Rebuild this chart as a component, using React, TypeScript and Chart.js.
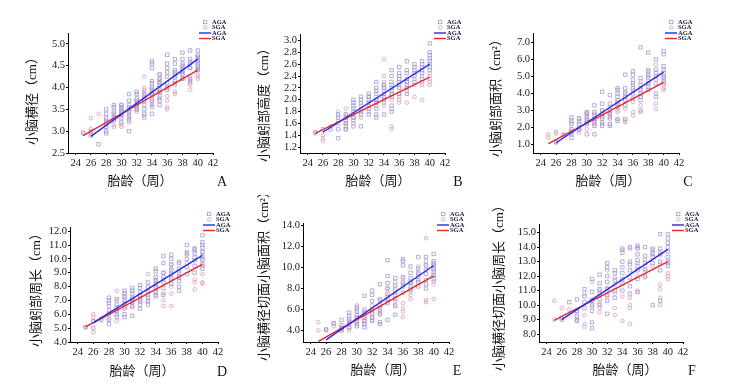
import React, { useEffect, useRef } from "react";
import { Chart, registerables } from "chart.js";
Chart.register(...registerables);

// ---------------- DATA ----------------
const WEEKS = [25, 26, 27, 28, 29, 30, 31, 32, 33, 34, 35, 36, 37, 38, 39, 40];
const X_TICKS = [24, 26, 28, 30, 32, 34, 36, 38, 40, 42];
const FIT_X_AGA = [26, 40];
const FIT_X_SGA = [25, 40];
const X_TITLE = "胎龄（周）";

// A: 小脑横径
const A_AGA = [
  [2.95], [2.9, 3.0], [2.7], [3.5, 3.4, 3.3, 3.2, 3.1, 3.0, 2.95], [3.6, 3.55, 3.45, 3.4, 3.3, 3.25],
  [3.6, 3.55, 3.5, 3.45, 3.4, 3.3, 3.2], [3.85, 3.7, 3.6, 3.5, 3.45, 3.35, 3.25, 3.0],
  [3.9, 3.85, 3.75, 3.7, 3.65, 3.55, 3.5], [3.85, 3.75, 3.7, 3.6, 3.5, 3.4],
  [4.6, 4.55, 4.45, 4.15, 4.1, 4.0, 3.95, 3.9, 3.85, 3.7, 3.55, 3.4],
  [4.3, 4.2, 4.1, 4.05, 3.95, 3.9, 3.8, 3.7, 3.6], [4.75, 4.55, 4.45, 4.35, 4.25, 4.1, 4.0, 3.95],
  [4.65, 4.55, 4.4, 4.35, 4.3, 4.25, 4.15, 4.1], [4.8, 4.65, 4.55, 4.5, 4.45, 4.4, 4.3, 4.2],
  [4.85, 4.65, 4.55, 4.45, 4.2, 4.15], [4.85, 4.75, 4.7, 4.65, 4.6, 4.55, 4.5, 4.45, 4.4],
];
const A_SGA = [
  [2.97], [3.3, 3.05, 2.95], [3.4], [3.25, 3.15], [3.1, 3.15, 3.35], [3.6, 3.45, 3.35, 3.15, 3.1],
  [3.55, 3.4, 3.3, 3.2], [3.6, 3.5, 3.45], [4.25, 4.0, 3.95, 3.9, 3.8, 3.35, 3.3],
  [4.0, 3.8, 3.75, 3.65, 3.6], [4.3, 4.2, 4.15, 3.9, 3.75], [4.0, 3.8, 3.7, 3.55, 3.5],
  [4.05, 3.9, 3.85], [4.35, 4.3, 4.2], [4.6, 4.45, 4.25, 4.1, 4.05, 3.95], [4.4, 4.3, 4.25, 4.2],
];
const A_FIT_AGA = [2.88, 4.65];
const A_FIT_SGA = [2.9, 4.4];
const A_Y_TICKS = [2.5, 3.0, 3.5, 4.0, 4.5, 5.0];

// B: 小脑蚓部高度
const B_AGA = [
  [1.45], [1.5], [1.5], [1.75, 1.7, 1.6, 1.5, 1.35], [1.75, 1.7, 1.65, 1.6, 1.55, 1.5],
  [2.0, 1.95, 1.9, 1.85, 1.8, 1.7, 1.65, 1.55], [2.05, 2.0, 1.95, 1.85, 1.8, 1.75, 1.55],
  [2.1, 2.05, 2.0, 1.95, 1.85, 1.75], [2.3, 2.2, 2.15, 2.1, 2.0, 1.95, 1.85, 1.75, 1.7],
  [2.25, 2.2, 2.1, 2.05, 2.0, 1.75], [2.5, 2.4, 2.3, 2.25, 2.2, 2.15, 2.1, 2.05, 1.9, 1.8],
  [2.55, 2.45, 2.4, 2.35, 2.3, 2.25, 2.2, 2.1], [2.65, 2.5, 2.45, 2.35, 2.3, 2.25, 2.2, 2.1],
  [2.6, 2.55, 2.5, 2.45, 2.4, 2.3], [2.65, 2.6, 2.55, 2.5, 2.45, 2.35],
  [2.95, 2.8, 2.75, 2.7, 2.65, 2.6, 2.55, 2.5],
];
const B_SGA = [
  [1.43], [1.4, 1.35, 1.3], [1.55], [1.8, 1.65], [1.85, 1.75, 1.6, 1.5], [1.75, 1.7, 1.6],
  [1.9, 1.7], [2.05, 1.9, 1.8], [2.0, 1.95, 1.9], [2.68, 2.4, 2.3, 2.25, 2.2, 2.15, 2.05, 1.95, 1.9],
  [2.1, 2.0, 1.85, 1.55, 1.5], [2.2, 2.1, 2.05, 2.0, 1.95], [2.3, 2.2, 2.15, 1.95],
  [2.35, 2.25, 2.05], [2.4, 2.3, 2.25, 2.0], [2.45, 2.4, 2.35, 2.3, 2.25],
];
const B_FIT_AGA = [1.45, 2.6];
const B_FIT_SGA = [1.43, 2.38];
const B_Y_TICKS = [1.2, 1.4, 1.6, 1.8, 2.0, 2.2, 2.4, 2.6, 2.8, 3.0];

// C: 小脑蚓部面积
const C_AGA = [
  [], [1.15], [1.55], [2.6, 2.4, 2.2, 1.9, 1.8, 1.6, 1.4], [2.55, 2.35, 2.2, 2.0, 1.85],
  [2.9, 2.8, 2.6, 2.4, 2.3, 2.2, 1.6], [3.3, 2.9, 2.7, 2.5, 2.3, 2.1, 1.6],
  [4.1, 3.4, 3.0, 2.8, 2.6, 2.3, 2.1], [3.9, 3.4, 3.0, 2.8, 2.6, 2.2, 2.1],
  [4.3, 4.2, 4.0, 3.8, 3.6, 3.4, 3.2, 2.5, 2.4], [5.1, 4.3, 4.0, 3.8, 3.6, 3.3, 2.5],
  [5.3, 5.1, 4.8, 4.6, 4.3, 4.0, 3.7], [6.7, 4.9, 4.5, 4.2, 4.0, 3.8, 3.6, 3.0],
  [6.4, 5.3, 5.1, 4.9, 4.6, 4.4, 4.2], [6.0, 5.4, 5.2, 5.0, 4.6, 4.0, 3.8],
  [6.5, 6.3, 5.6, 5.4, 5.2, 5.0, 4.9, 4.7],
];
const C_SGA = [
  [1.6, 1.4], [1.75, 1.65, 1.1], [1.6], [2.3, 1.7], [2.5, 1.9, 1.7], [2.85, 2.7, 2.5, 1.9],
  [2.8, 2.4, 2.2], [3.0, 2.7, 2.5, 2.2], [3.2, 2.9, 2.7, 2.5], [3.5, 3.2, 3.0, 2.9],
  [4.1, 3.6, 3.1, 2.4, 2.3], [4.5, 4.2, 3.5, 2.9, 2.7], [4.7, 4.3, 3.8, 3.3, 2.9],
  [5.4, 5.0, 4.6], [5.7, 4.8, 3.4, 3.1], [4.6, 4.5, 4.3, 4.2],
];
const C_FIT_AGA = [1.1, 5.25];
const C_FIT_SGA = [1.05, 4.65];
const C_Y_TICKS = [1.0, 2.0, 3.0, 4.0, 5.0, 6.0, 7.0];

// D: 小脑蚓部周长
const D_AGA = [
  [5.05], [5.5, 5.0], [5.6], [7.2, 7.0, 6.8, 6.3, 6.0, 5.6, 5.3], [7.1, 6.7, 6.5, 6.2, 6.0, 5.8],
  [7.7, 7.5, 7.3, 7.0, 6.8, 6.5, 6.0, 5.8], [7.9, 7.7, 7.5, 7.2, 6.9, 6.6, 5.9],
  [8.1, 7.9, 7.6, 7.3, 7.0, 6.7, 6.4], [8.3, 8.0, 7.7, 7.4, 7.2, 7.0, 6.7],
  [9.3, 9.1, 8.7, 8.4, 8.2, 7.9, 7.6, 7.3], [10.2, 9.7, 9.0, 8.7, 8.3, 7.9, 7.4],
  [10.3, 10.0, 9.6, 9.2, 8.9, 8.6, 8.2], [9.7, 9.3, 9.0, 8.7, 8.4, 8.0, 7.7],
  [11.0, 10.4, 10.0, 9.4, 8.9], [10.7, 10.4, 10.1, 9.9, 9.5, 9.0],
  [11.7, 11.2, 11.0, 10.8, 10.5, 10.2, 9.9, 9.6, 9.3],
];
const D_SGA = [
  [5.1], [6.0, 5.8, 5.5, 4.7], [5.7], [6.6, 5.7], [7.7, 7.0, 6.3, 5.5], [7.2, 6.7, 6.4],
  [7.1, 6.8, 6.5], [7.4, 7.1, 6.9], [8.9, 7.6, 6.9], [8.5, 8.0, 7.7, 7.4], [9.0, 8.5, 7.5, 7.0, 6.6],
  [9.6, 9.3, 8.5, 8.0, 7.5, 6.6], [9.8, 9.1, 8.6], [10.5, 10.3, 9.7], [10.8, 10.6, 8.5, 8.3, 7.8],
  [10.5, 10.0, 9.5, 8.9, 8.3, 8.2],
];
const D_FIT_AGA = [5.4, 10.25];
const D_FIT_SGA = [5.1, 9.6];
const D_Y_TICKS = [4.0, 5.0, 6.0, 7.0, 8.0, 9.0, 10.0, 11.0, 12.0];

// E: 小脑横径切面小脑面积
const E_AGA = [
  [], [4.1], [4.7], [5.0, 4.5, 4.2, 4.0], [5.7, 5.4, 5.1, 4.9, 4.6, 4.3],
  [6.2, 5.8, 5.5, 5.2, 4.9, 4.6, 4.4], [7.3, 6.0, 5.6, 5.2, 4.9, 4.6, 4.3],
  [7.8, 7.4, 6.8, 6.0, 5.6, 5.2, 4.9], [8.4, 6.9, 6.4, 6.0, 5.6, 4.8, 4.6],
  [10.7, 9.2, 8.5, 8.0, 7.5, 7.0, 6.6, 5.0], [9.0, 8.3, 7.9, 7.4, 7.0, 6.4, 5.5],
  [10.8, 10.6, 10.2, 9.1, 8.6, 8.2, 7.6], [10.1, 9.5, 9.0, 8.6, 8.2, 7.9],
  [11.0, 9.9, 9.5, 9.1, 8.6, 8.2], [11.0, 10.2, 9.8, 9.4, 8.8, 8.4, 8.0],
  [11.3, 10.6, 10.4, 10.2, 9.9, 9.6, 9.3, 8.9],
];
const E_SGA = [
  [4.8, 4.0], [4.1, 4.0], [4.6, 4.4], [4.3, 4.1], [4.7, 4.2, 4.0], [6.4, 6.0, 5.3, 4.8],
  [5.8, 5.4, 5.0, 4.6], [6.4, 5.8, 5.3, 5.0], [7.0, 6.2, 5.8, 5.5], [8.0, 7.3, 6.8],
  [8.6, 7.6, 6.8, 6.3], [9.0, 8.4, 6.6, 6.1, 5.8, 5.3], [8.5, 7.8, 7.4, 7.0], [10.1, 9.4, 8.8],
  [12.8, 10.6, 10.3, 6.9, 6.7], [9.8, 9.2, 8.7, 8.4, 7.0],
];
const E_FIT_AGA = [3.1, 10.2];
const E_FIT_SGA = [2.95, 9.2];
const E_Y_TICKS = [4.0, 6.0, 8.0, 10.0, 12.0, 14.0];

// F: 小脑横径切面小脑周长
const F_AGA = [
  [], [9.0], [10.2], [10.4, 9.6, 9.2, 9.0, 8.9], [11.1, 10.6, 10.2, 9.8],
  [11.8, 10.9, 10.3, 10.0, 9.6, 8.8, 8.4], [12.1, 11.5, 11.1, 10.8, 10.4, 10.0],
  [12.9, 12.6, 12.0, 11.6, 11.1, 10.7, 10.3, 9.4], [12.4, 12.2, 11.7, 11.0, 10.5],
  [13.9, 13.6, 13.0, 12.6, 12.2, 11.8, 11.5, 11.0], [14.0, 13.0, 12.8, 12.4, 11.9, 11.3, 10.8],
  [14.1, 13.9, 13.5, 13.1, 12.7, 12.4, 11.8, 10.9], [14.0, 13.4, 12.9, 12.5, 12.0],
  [13.9, 13.6, 13.3, 12.9, 10.0], [14.9, 13.9, 13.5, 13.0, 12.4, 10.3],
  [14.9, 14.6, 14.3, 14.0, 13.7, 13.3, 13.0, 12.7],
];
const F_SGA = [
  [10.3, 9.0], [9.8, 9.1], [9.7], [9.5], [10.8, 9.3, 8.7, 8.5], [11.6, 10.4, 9.9],
  [11.0, 10.1, 9.8, 9.5], [12.4, 11.2, 10.6], [11.9, 11.4, 10.8, 9.8, 9.3], [13.8, 10.6, 8.9],
  [13.9, 10.5, 10.0, 9.8, 8.7], [14.0, 12.9, 12.0, 11.0], [13.1, 12.4, 11.9], [13.8, 13.5, 12.7],
  [13.7, 12.8, 11.4, 11.1, 10.5, 10.0], [12.9, 12.2, 12.0, 11.8],
];
const F_FIT_AGA = [9.0, 13.85];
const F_FIT_SGA = [8.95, 13.0];
const F_Y_TICKS = [8.0, 9.0, 10.0, 11.0, 12.0, 13.0, 14.0, 15.0];

// ---------------- LAYOUT / STYLE ----------------
const SERIF = "'Liberation Serif', 'Times New Roman', 'Noto Sans CJK SC', serif";
const AGA_POINT = "#9e9ad6";
const SGA_POINT = "#d99cb8";
const AGA_LINE = "#2a2ae6";
const SGA_LINE = "#e8262e";

type Panel = {
  id: string; aga: number[][]; sga: number[][]; fitAga: number[]; fitSga: number[];
  yTicks: number[]; yMin: number; yMax: number; yLabel: string;
  canvas: number[]; plot: number[]; yTitle: number[]; xTitle: number[]; letter: number[]; legend: number[];
};

const PANELS: Panel[] = [
  { id: "A", aga: A_AGA, sga: A_SGA, fitAga: A_FIT_AGA, fitSga: A_FIT_SGA, yTicks: A_Y_TICKS, yMin: 2.5, yMax: 5.25,
    yLabel: "小脑横径（cm）", canvas: [0, 0, 245, 195], plot: [68, 33, 213, 153], yTitle: [33, 98], xTitle: [140, 182], letter: [222, 182], legend: [199, 22] },
  { id: "B", aga: B_AGA, sga: B_SGA, fitAga: B_FIT_AGA, fitSga: B_FIT_SGA, yTicks: B_Y_TICKS, yMin: 1.1, yMax: 3.11,
    yLabel: "小脑蚓部高度（cm）", canvas: [245, 0, 240, 195], plot: [300, 34, 445, 153], yTitle: [265, 102], xTitle: [378, 182], letter: [458, 182], legend: [434, 22] },
  { id: "C", aga: C_AGA, sga: C_SGA, fitAga: C_FIT_AGA, fitSga: C_FIT_SGA, yTicks: C_Y_TICKS, yMin: 0.5, yMax: 7.55,
    yLabel: "小脑蚓部面积（cm²）", canvas: [485, 0, 261, 195], plot: [533, 33, 679, 153], yTitle: [497, 95], xTitle: [608, 182], letter: [688, 182], legend: [665, 22] },
  { id: "D", aga: D_AGA, sga: D_SGA, fitAga: D_FIT_AGA, fitSga: D_FIT_SGA, yTicks: D_Y_TICKS, yMin: 4.0, yMax: 12.3,
    yLabel: "小脑蚓部周长（cm）", canvas: [0, 195, 245, 195], plot: [70, 227, 218, 342], yTitle: [37, 287], xTitle: [142, 372], letter: [222, 372], legend: [203, 214] },
  { id: "E", aga: E_AGA, sga: E_SGA, fitAga: E_FIT_AGA, fitSga: E_FIT_SGA, yTicks: E_Y_TICKS, yMin: 2.9, yMax: 14.25,
    yLabel: "小脑横径切面小脑面积（cm²）", canvas: [245, 195, 240, 195], plot: [303, 223, 449, 342], yTitle: [265, 273], xTitle: [383, 371], letter: [457, 371], legend: [437, 214] },
  { id: "F", aga: F_AGA, sga: F_SGA, fitAga: F_FIT_AGA, fitSga: F_FIT_SGA, yTicks: F_Y_TICKS, yMin: 7.45, yMax: 15.6,
    yLabel: "小脑横径切面小脑周长（cm）", canvas: [485, 195, 261, 195], plot: [539, 224, 683, 342], yTitle: [500, 285], xTitle: [625, 371], letter: [692, 371], legend: [672, 214] },
];

function toPoints(groups: number[][]) {
  const pts: { x: number; y: number }[] = [];
  groups.forEach((vals, i) => vals.forEach((v) => pts.push({ x: WEEKS[i], y: v })));
  return pts;
}

function makeDecor(p: Panel) {
  const [cx, cy] = p.canvas;
  return {
    id: "decor" + p.id,
    afterDraw(chart: any) {
      const ctx = chart.ctx as CanvasRenderingContext2D;
      ctx.save();
      ctx.fillStyle = "#151515";
      ctx.textAlign = "center";
      ctx.textBaseline = "middle";
      ctx.font = `13px ${SERIF}`;
      ctx.fillText(X_TITLE, p.xTitle[0] - cx, p.xTitle[1] - cy);
      ctx.save();
      ctx.translate(p.yTitle[0] - cx, p.yTitle[1] - cy);
      ctx.rotate(-Math.PI / 2);
      ctx.fillText(p.yLabel, 0, 0);
      ctx.restore();
      ctx.font = `14px ${SERIF}`;
      ctx.fillText(p.id, p.letter[0] - cx, p.letter[1] - cy);
      // legend
      const lx = p.legend[0] - cx;
      const ly = p.legend[1] - cy;
      const dy = 5.5;
      ctx.font = `bold 6.5px ${SERIF}`;
      ctx.textAlign = "left";
      ctx.fillStyle = "#1a1a40";
      const tx = lx + 13;
      ctx.lineWidth = 0.8;
      ctx.strokeStyle = AGA_POINT;
      ctx.strokeRect(lx + 4.5, ly - 1.7, 3.4, 3.4);
      ctx.fillText("AGA", tx, ly);
      ctx.strokeStyle = SGA_POINT;
      ctx.beginPath();
      ctx.arc(lx + 6.2, ly + dy, 1.8, 0, Math.PI * 2);
      ctx.stroke();
      ctx.fillText("SGA", tx, ly + dy);
      ctx.lineWidth = 1.4;
      ctx.strokeStyle = AGA_LINE;
      ctx.beginPath();
      ctx.moveTo(lx, ly + 2 * dy);
      ctx.lineTo(lx + 12, ly + 2 * dy);
      ctx.stroke();
      ctx.fillText("AGA", tx, ly + 2 * dy);
      ctx.strokeStyle = SGA_LINE;
      ctx.beginPath();
      ctx.moveTo(lx, ly + 3 * dy);
      ctx.lineTo(lx + 12, ly + 3 * dy);
      ctx.stroke();
      ctx.fillText("SGA", tx, ly + 3 * dy);
      ctx.restore();
    },
  };
}

function PanelChart({ p }: { p: Panel }) {
  const ref = useRef<HTMLCanvasElement | null>(null);
  useEffect(() => {
    if (!ref.current) return;
    const [cx, cy, cw, ch] = p.canvas;
    const [L, T, R, B] = p.plot;
    const chart = new Chart(ref.current, {
      type: "scatter",
      data: {
        datasets: [
          {
            label: "AGA fit", data: FIT_X_AGA.map((x, i) => ({ x, y: p.fitAga[i] })), showLine: true,
            borderColor: AGA_LINE, borderWidth: 1.4, pointRadius: 0, fill: false, order: 0,
          } as any,
          {
            label: "SGA fit", data: FIT_X_SGA.map((x, i) => ({ x, y: p.fitSga[i] })), showLine: true,
            borderColor: SGA_LINE, borderWidth: 1.4, pointRadius: 0, fill: false, order: 0,
          },
          {
            label: "AGA", data: toPoints(p.aga), pointStyle: "rect", pointRadius: 2.4, borderWidth: 0.8,
            borderColor: AGA_POINT, backgroundColor: "rgba(0,0,0,0)", order: 1,
          },
          {
            label: "SGA", data: toPoints(p.sga), pointStyle: "circle", pointRadius: 1.8, borderWidth: 0.8,
            borderColor: SGA_POINT, backgroundColor: "rgba(0,0,0,0)", order: 2,
          },
        ],
      },
      options: {
        responsive: false,
        maintainAspectRatio: false,
        animation: false,
        events: [],
        layout: { padding: { top: T - cy, right: cx + cw - R, bottom: 0, left: 0 } },
        plugins: { legend: { display: false }, tooltip: { enabled: false } },
        scales: {
          x: {
            type: "linear", min: 23, max: 42,
            afterBuildTicks: (s: any) => { s.ticks = X_TICKS.map((v) => ({ value: v })); },
            afterFit: (s: any) => { s.height = cy + ch - B; },
            ticks: { font: { family: SERIF, size: 10.5 }, color: "#1a1a1a", padding: 2, maxRotation: 0, autoSkip: false,
              callback: (v: any) => String(v) },
            grid: { drawOnChartArea: false, drawTicks: true, tickLength: 2, color: "#000" },
            border: { display: true, color: "#000", width: 1 },
          },
          y: {
            type: "linear", min: p.yMin, max: p.yMax,
            afterBuildTicks: (s: any) => { s.ticks = p.yTicks.map((v) => ({ value: v })); },
            afterFit: (s: any) => { s.width = L - cx; },
            ticks: { font: { family: SERIF, size: 10.5 }, color: "#1a1a1a", padding: 1, autoSkip: false,
              callback: (v: any) => Number(v).toFixed(1) },
            grid: { drawOnChartArea: false, drawTicks: true, tickLength: 2, color: "#000" },
            border: { display: true, color: "#000", width: 1 },
          },
        },
      },
      plugins: [makeDecor(p)],
    });
    return () => chart.destroy();
  }, [p]);
  const [cx, cy, cw, ch] = p.canvas;
  return (
    <canvas ref={ref} width={cw} height={ch}
      style={{ position: "absolute", left: cx, top: cy, width: cw, height: ch }} />
  );
}

export default function App() {
  return (
    <div style={{ position: "absolute", left: 0, top: 0, width: 746, height: 390, background: "#fff", overflow: "hidden" }}>
      {PANELS.map((p) => <PanelChart key={p.id} p={p} />)}
    </div>
  );
}
